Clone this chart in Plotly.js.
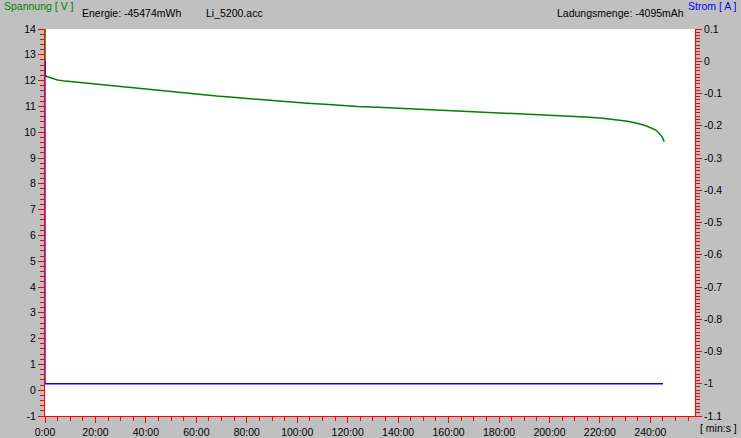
<!DOCTYPE html>
<html>
<head>
<meta charset="utf-8">
<script src="https://cdn.plot.ly/plotly-3.0.1.min.js"></script>
<style>
  html, body { margin: 0; padding: 0; background: #c0c0c0; }
  #chart { width: 741px; height: 438px; }
</style>
</head>
<body>
<div id="chart"></div>
<script>
// Time in minutes
var timeV = [0, 0, 1, 3, 5, 8, 11, 14, 18, 22.5, 26.5, 30, 34, 38, 42, 46, 50, 55, 59, 63, 68, 72, 77, 81, 87, 92, 98, 104, 111, 117, 124, 132, 141, 150, 160, 166, 172, 179, 185, 193, 201, 209, 216, 221, 225, 228.5, 231, 233.3, 235.6, 237.3, 238.7, 240.8, 242, 243, 244, 244.8, 245.5];
var voltage = [14, 12.2, 12.15, 12.07, 12.02, 11.98, 11.95, 11.91, 11.87, 11.83, 11.79, 11.76, 11.72, 11.68, 11.64, 11.60, 11.56, 11.52, 11.48, 11.44, 11.40, 11.37, 11.33, 11.29, 11.24, 11.20, 11.16, 11.12, 11.08, 11.04, 11.00, 10.97, 10.93, 10.89, 10.85, 10.82, 10.80, 10.77, 10.73, 10.69, 10.65, 10.62, 10.58, 10.54, 10.50, 10.46, 10.42, 10.38, 10.33, 10.28, 10.23, 10.16, 10.09, 10.01, 9.90, 9.80, 9.63];
var timeI = [0, 0, 245];
var current = [0, -1, -1];

var xTickVals = [0, 20, 40, 60, 80, 100, 120, 140, 160, 180, 200, 220, 240];
var xTickText = ["0:00", "20:00", "40:00", "60:00", "80:00", "100:00", "120:00", "140:00", "160:00", "180:00", "200:00", "220:00", "240:00"];
var yTickVals = [-1, 0, 1, 2, 3, 4, 5, 6, 7, 8, 9, 10, 11, 12, 13, 14];
var yTickText = ["-1", "0", "1", "2", "3", "4", "5", "6", "7", "8", "9", "10", "11", "12", "13", "14"];
var y2TickVals = [-1.1, -1.0, -0.9, -0.8, -0.7, -0.6, -0.5, -0.4, -0.3, -0.2, -0.1, 0, 0.1];
var y2TickText = ["-1.1", "-1", "-0.9", "-0.8", "-0.7", "-0.6", "-0.5", "-0.4", "-0.3", "-0.2", "-0.1", "0", "0.1"];

var headerLeft = "Spannung [ V ]";
var headerEnergy = "Energie: -45474mWh";
var headerFile = "Li_5200.acc";
var headerCharge = "Ladungsmenge: -4095mAh";
var headerRight = "Strom [ A ]";
var xUnit = "[ min:s ]";

var W = 741, H = 438, ML = 45, MR = 46, MT = 29, MB = 22;
var PW = W - ML - MR, PH = H - MT - MB;
function px(x) { return (x - ML) / PW; }
function py(y) { return (H - MB - y) / PH; }

var RED = '#ff0000';
var FONT = 'Arial, "Liberation Sans", sans-serif';

var traces = [
  { x: timeI, y: current, yaxis: 'y2', type: 'scatter', mode: 'lines',
    line: { color: '#0000ff', width: 1.3 }, hoverinfo: 'skip' },
  { x: timeV, y: voltage, yaxis: 'y', type: 'scatter', mode: 'lines',
    line: { color: '#008000', width: 1.5 }, hoverinfo: 'skip' }
];

function ann(text, x, y, color, anchor) {
  return { text: text, xref: 'paper', yref: 'paper', x: px(x), y: py(y),
    xanchor: anchor || 'left', yanchor: 'middle', showarrow: false,
    font: { family: FONT, size: 10.5, color: color } };
}

var layout = {
  width: W, height: H,
  margin: { l: ML, r: MR, t: MT, b: MB, pad: 0 },
  paper_bgcolor: '#c0c0c0', plot_bgcolor: '#ffffff',
  showlegend: false,
  font: { family: FONT, size: 10.5, color: '#000000' },
  xaxis: {
    range: [0, 257.7], tickmode: 'array', tickvals: xTickVals, ticktext: xTickText,
    ticks: 'outside', ticklen: 6, tickwidth: 1, tickcolor: RED,
    showline: true, linecolor: RED, linewidth: 1, showgrid: false, zeroline: false,
    tickfont: { family: FONT, size: 10.5, color: '#000' },
    minor: { tickmode: 'linear', tick0: 0, dtick: 5, ticks: 'outside', ticklen: 4, tickwidth: 1, tickcolor: RED, showgrid: false },
    fixedrange: true
  },
  yaxis: {
    range: [-1, 14], tickmode: 'array', tickvals: yTickVals, ticktext: yTickText,
    ticks: 'outside', ticklen: 6, tickwidth: 1, tickcolor: RED,
    showline: true, linecolor: RED, linewidth: 1, showgrid: false, zeroline: false,
    tickfont: { family: FONT, size: 10.5, color: '#000' },
    minor: { tickmode: 'linear', tick0: 0, dtick: 0.2, ticks: 'outside', ticklen: 4, tickwidth: 1, tickcolor: RED, showgrid: false },
    fixedrange: true
  },
  yaxis2: {
    overlaying: 'y', side: 'right',
    range: [-1.1, 0.1], tickmode: 'array', tickvals: y2TickVals, ticktext: y2TickText,
    ticks: 'outside', ticklen: 6, tickwidth: 1, tickcolor: RED,
    showline: true, linecolor: RED, linewidth: 1, showgrid: false, zeroline: false,
    tickfont: { family: FONT, size: 10.5, color: '#000' },
    minor: { tickmode: 'linear', tick0: 0, dtick: 0.01, ticks: 'outside', ticklen: 4, tickwidth: 1, tickcolor: RED, showgrid: false },
    fixedrange: true
  },
  annotations: [
    ann(headerLeft, 2, 6, '#008000'),
    ann(headerEnergy, 80, 13, '#000000'),
    ann(headerFile, 204, 13, '#000000'),
    ann(headerCharge, 555, 13, '#000000'),
    ann(headerRight, 739, 6, '#0000ff', 'right'),
    ann(xUnit, 739, 428, '#000000', 'right')
  ]
};

Plotly.newPlot('chart', traces, layout, { staticPlot: true, displayModeBar: false });
</script>
</body>
</html>
